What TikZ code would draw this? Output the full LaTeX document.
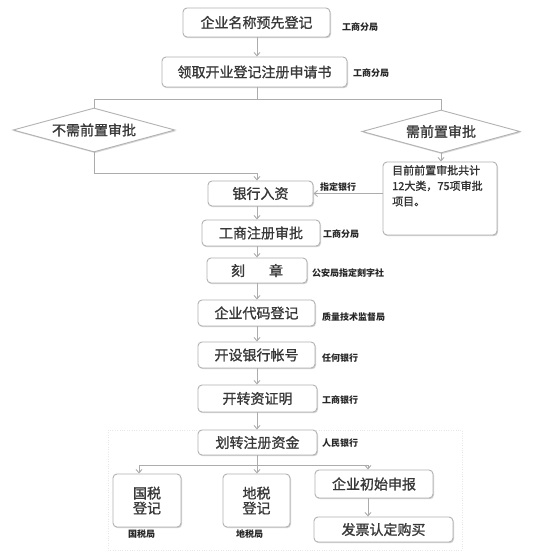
\documentclass[tikz,border=0pt]{standalone}
\usepackage{fontspec}
\newfontfamily\cjk{Noto Sans CJK SC}
\newfontfamily\cjkm[FakeBold=1.2]{Noto Sans CJK SC}
\usetikzlibrary{shapes.geometric,arrows.meta,shadows}
\tikzset{
  box/.style={draw=gray!60, line width=0.9pt, rounded corners=4pt, fill=white,
    drop shadow={shadow xshift=1pt,shadow yshift=-1.2pt,opacity=0.35,fill=gray},
    font=\cjkm\fontsize{14}{15}\selectfont, text=black!78, inner sep=0pt, align=center},
  dia/.style={diamond, aspect=3.7, draw=gray!60, line width=0.9pt, fill=white,
    drop shadow={shadow xshift=1pt,shadow yshift=-1.2pt,opacity=0.3,fill=gray},
    font=\cjkm\fontsize{14}{15}\selectfont, text=black!78, inner sep=0pt},
  lbl/.style={font=\cjk\bfseries\fontsize{9}{10}\selectfont, text=black!85, anchor=west, inner sep=0pt},
  conn/.style={draw=gray!65, line width=0.9pt},
  arr/.style={conn, -{Straight Barb[length=3.5pt,width=6pt]}},
}
\begin{document}
\begin{tikzpicture}[x=1pt,y=-1pt]
\useasboundingbox (0,0) rectangle (535,555);
\fill[white] (0,0) rectangle (535,555);
\draw[gray!18, dotted] (108,430) rectangle (462,550);

% boxes
\node[box, minimum width=147pt, minimum height=29pt] (n1) at (256.5,22.5) {企业名称预先登记};
\node[box, minimum width=185pt, minimum height=30pt] (n2) at (254.5,72) {领取开业登记注册申请书};
\node[dia, minimum width=162pt, minimum height=44pt] (d1) at (94,130) {不需前置审批};
\node[dia, minimum width=158pt, minimum height=43pt] (d2) at (441,131.5) {需前置审批};
\node[box, minimum width=114pt, minimum height=73pt] (r) at (440,198.5) {};
\node[anchor=north west, inner sep=0pt, align=left, text=black!80,
  font=\cjkm\fontsize{11}{15.5}\selectfont] (rt) at (392,165) {目前前置审批共计\\12大类，75项审批\\项目。};
\node[box, minimum width=105pt, minimum height=25pt] (n3) at (260.5,193.5) {银行入资};
\node[box, minimum width=118pt, minimum height=26pt] (n4) at (261,233) {工商注册审批};
\node[box, minimum width=100pt, minimum height=25pt] (n5) at (257,270.5) {刻\hspace{24pt}章};
\node[box, minimum width=117pt, minimum height=26pt] (n6) at (256.5,313) {企业代码登记};
\node[box, minimum width=117pt, minimum height=26pt] (n7) at (256.5,355) {开设银行帐号};
\node[box, minimum width=119pt, minimum height=27pt] (n8) at (257.5,398.5) {开转资证明};
\node[box, minimum width=119pt, minimum height=25pt] (n9) at (257.5,442.5) {划转注册资金};
\node[box, minimum width=68pt, minimum height=53pt] (b1) at (147,500.5) {国税\\登记};
\node[box, minimum width=67pt, minimum height=53pt] (b2) at (256.5,500.5) {地税\\登记};
\node[box, minimum width=118pt, minimum height=28pt] (b3) at (374,484) {企业初始申报};
\node[box, minimum width=139pt, minimum height=25pt] (b4) at (383.5,529.5) {发票认定购买};

% labels
\node[lbl] (l1) at (342,27) {工商分局};
\node[lbl] (l2) at (353,73) {工商分局};
\node[lbl] (l3) at (320,187) {指定银行};
\node[lbl] (l4) at (323,234) {工商分局};
\node[lbl] (l5) at (312,273) {公安局指定刻字社};
\node[lbl] (l6) at (322,317) {质量技术监督局};
\node[lbl] (l7) at (322,358) {任何银行};
\node[lbl] (l8) at (322,400) {工商银行};
\node[lbl] (l9) at (322,443) {人民银行};
\node[lbl] (l10) at (128,534) {国税局};
\node[lbl] (l11) at (236,534) {地税局};

% connectors
\coordinate (j1) at (257,99);
\coordinate (j0) at (257,173);
\coordinate (j2) at (257,465);
\coordinate (bl) at (139,465);
\coordinate (br) at (368,465);
\draw[arr] (n1.south -| j1) -- (n2.north -| j1);
\draw[conn] (n2.south -| j1) -- (j1);
\draw[conn] (d1.north) -- (d1.north |- j1) -- (d2.north |- j1) -- (d2.north);
\draw[arr] (d1.south) -- (d1.south |- j0) -- (j0) -- (n3.north -| j0);
\draw[arr] (d2.south) -- (d2.south |- r.north);
\draw[arr] (r.west |- n3.east) -- (n3.east);
\draw[arr] (n3.south -| j1) -- (n4.north -| j1);
\draw[arr] (n4.south -| j1) -- (n5.north -| j1);
\draw[arr] (n5.south -| j1) -- (n6.north -| j1);
\draw[arr] (n6.south -| j1) -- (n7.north -| j1);
\draw[arr] (n7.south -| j1) -- (n8.north -| j1);
\draw[arr] (n8.south -| j1) -- (n9.north -| j1);
\draw[conn] (n9.south -| j2) -- (j2);
\draw[conn] (bl) -- (br);
\draw[arr] (bl) -- (bl |- b1.north);
\draw[arr] (j2) -- (j2 |- b2.north);
\draw[arr] (br) -- (br |- b3.north);
\draw[arr] (b3.south -| br) -- (b4.north -| br);
\end{tikzpicture}
\end{document}
